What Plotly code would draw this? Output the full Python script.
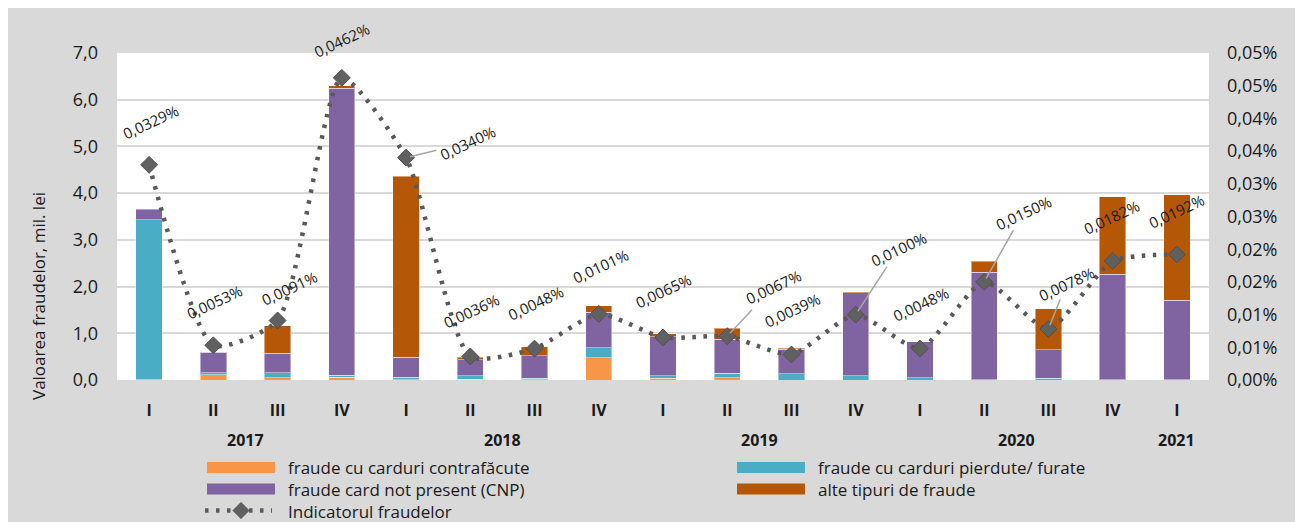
import plotly.graph_objects as go

# quarters / years
QUARTERS = ['I', 'II', 'III', 'IV', 'I', 'II', 'III', 'IV', 'I', 'II', 'III', 'IV',
            'I', 'II', 'III', 'IV', 'I']
YEARS = ['2017', '2018', '2019', '2020', '2021']
YEAR_CENTERS = [1.5, 5.5, 9.5, 13.5, 16]

# values in mil. lei (stacked, bottom to top)
contrafacute = [0.01, 0.11, 0.05, 0.06, 0.01, 0.02, 0.01, 0.48, 0.04, 0.05, 0.00, 0.00,
                0.00, 0.00, 0.00, 0.00, 0.00]
pierdute = [3.42, 0.04, 0.11, 0.04, 0.05, 0.07, 0.03, 0.21, 0.05, 0.09, 0.13, 0.09,
            0.05, 0.01, 0.04, 0.01, 0.01]
cnp = [0.21, 0.44, 0.41, 6.15, 0.43, 0.34, 0.48, 0.76, 0.84, 0.73, 0.53, 1.78,
       0.77, 2.30, 0.61, 2.25, 1.70]
alte = [0.01, 0.02, 0.59, 0.05, 3.87, 0.06, 0.19, 0.14, 0.06, 0.24, 0.02, 0.01,
        0.00, 0.23, 0.88, 1.66, 2.26]

# fraud indicator, in %
indicator = [0.0329, 0.0053, 0.0091, 0.0462, 0.0340, 0.0036, 0.0048, 0.0101, 0.0065,
             0.0067, 0.0039, 0.0100, 0.0048, 0.0150, 0.0078, 0.0182, 0.0192]

Y2_TICKVALS = [0, 0.005, 0.01, 0.015, 0.02, 0.025, 0.03, 0.035, 0.04, 0.045, 0.05]
Y2_TICKTEXT = ['0,00%', '0,01%', '0,01%', '0,02%', '0,02%', '0,03%', '0,03%',
               '0,04%', '0,04%', '0,05%', '0,05%']

SERIES_NAMES = ['fraude cu carduri contrafăcute', 'fraude cu carduri pierdute/ furate',
                'fraude card not present (CNP)', 'alte tipuri de fraude',
                'Indicatorul fraudelor']
COLORS = ['#F79646', '#4BACC6', '#8064A2', '#B65708']
LINE_COLOR = '#595959'
FONT = 'Open Sans'
TXT = '#1a1a1a'

# label offsets in px (dx, dy up) from the marker, and which ones get a leader line
LABEL_OFFSETS = [(1, 43), (1, 43), (12, 32), (0, 38), (61, 15), (1, 45), (1, 46), (2, 48),
                 (0, 46), (46, 49), (1, 44), (43, 66), (1, 45), (39, 69), (18, 45),
                 (-1, 44), (0, 43)]
LEADERS = [4, 9, 11, 13, 14]

# figure geometry
W, H = 1295, 514
ML, MR, MT, MB = 109, 94, 45, 142
PW, PH = W - ML - MR, H - MT - MB


def px(x):
    # page x (reference pixels) -> paper
    return (x - 8 - ML) / PW


def py(y):
    # page y (reference pixels) -> paper
    return 1 - (y - 8 - MT) / PH


xs = list(range(len(QUARTERS)))

fig = go.Figure()
for vals, name, col in zip([contrafacute, pierdute, cnp, alte], SERIES_NAMES, COLORS):
    fig.add_trace(go.Bar(x=xs, y=vals, name=name, marker_color=col,
                         marker_line=dict(color='rgba(255,255,255,0.45)', width=1),
                         showlegend=False))

fig.add_trace(go.Scatter(x=xs, y=indicator, name=SERIES_NAMES[4], yaxis='y2',
                         mode='lines+markers', showlegend=False,
                         line=dict(color=LINE_COLOR, width=4.5, dash='3.5px,7.5px',
                                   shape='spline', smoothing=0.6),
                         marker=dict(symbol='diamond', size=13, color='#606060',
                                     line=dict(color='#505050', width=1))))

annotations = []
# data labels
for i, v in enumerate(indicator):
    dx, dy = LABEL_OFFSETS[i]
    txt = f'{v:.4f}'.replace('.', ',') + '%'
    if i in LEADERS:
        annotations.append(dict(x=i, y=v, xref='x', yref='y2', text=txt, textangle=-25,
                                showarrow=True, arrowhead=0, arrowwidth=1.5,
                                arrowcolor='#A6A6A6', ax=dx, ay=-dy, standoff=4,
                                font=dict(family=FONT, size=15, color=TXT)))
    else:
        annotations.append(dict(x=i, y=v, xref='x', yref='y2', text=txt, textangle=-25,
                                showarrow=False, xshift=dx, yshift=dy,
                                font=dict(family=FONT, size=15, color=TXT)))

# year labels
for yr, c in zip(YEARS, YEAR_CENTERS):
    annotations.append(dict(x=c, y=py(440), xref='x', yref='paper', text=yr,
                            showarrow=False, yanchor='middle', xanchor='center',
                            font=dict(family=FONT, size=16, color=TXT, weight='bold')))

# y axis title
annotations.append(dict(x=px(38), y=py(296), xref='paper', yref='paper',
                        text='Valoarea fraudelor, mil. lei', textangle=-90,
                        xanchor='center', yanchor='middle',
                        showarrow=False, font=dict(family=FONT, size=17, color=TXT)))

# manual legend: swatches as shapes, one text block per column
shapes = []
rows = [467.5, 489, 510.5]
legend_items = [(0, 0, 0), (1, 1, 0), (2, 0, 1), (3, 1, 1)]
col_x = [(207, 275, 286), (737, 805, 816)]
for k, c, r in legend_items:
    x0, x1 = col_x[c][:2]
    yc = rows[r]
    shapes.append(dict(type='rect', xref='paper', yref='paper', x0=px(x0), x1=px(x1),
                       y0=py(yc + 5.5), y1=py(yc - 5.5), fillcolor=COLORS[k],
                       line=dict(width=0)))
yc = rows[2]
shapes.append(dict(type='line', xref='paper', yref='paper', x0=px(205), x1=px(272),
                   y0=py(yc), y1=py(yc), line=dict(color=LINE_COLOR, width=4.5,
                                                   dash='3.5px,7.5px')))
shapes.append(dict(type='path', xref='paper', yref='paper', xsizemode='pixel',
                   ysizemode='pixel', xanchor=px(241), yanchor=py(yc),
                   path='M -8 0 L 0 8 L 8 0 L 0 -8 Z', fillcolor='#606060',
                   line=dict(color='#505050', width=1)))

col1 = '<br>'.join([SERIES_NAMES[0], SERIES_NAMES[2], SERIES_NAMES[4]])
col2 = '<br>'.join([SERIES_NAMES[1], SERIES_NAMES[3]])
annotations.append(dict(x=px(col_x[0][2]), y=py(rows[1]), xref='paper', yref='paper',
                        text=col1, showarrow=False, xanchor='left', yanchor='middle',
                        align='left', font=dict(family=FONT, size=17, color=TXT)))
annotations.append(dict(x=px(col_x[1][2]), y=py((rows[0] + rows[1]) / 2), xref='paper',
                        yref='paper', text=col2, showarrow=False, xanchor='left',
                        yanchor='middle', align='left',
                        font=dict(family=FONT, size=17, color=TXT)))

fig.update_layout(
    width=W, height=H,
    margin=dict(l=ML, r=MR, t=MT, b=MB, pad=0),
    paper_bgcolor='#D9D9D9', plot_bgcolor='white',
    barmode='stack', bargap=0.59,
    separators=', ',
    font=dict(family=FONT, size=17, color=TXT),
    showlegend=False,
    xaxis=dict(range=[-0.5, len(QUARTERS) - 0.5], tickvals=xs, ticktext=QUARTERS,
               showgrid=False, zeroline=False, showline=False,
               tickfont=dict(family=FONT, size=16, color=TXT, weight='bold'),
               ticklabelstandoff=19),
    yaxis=dict(range=[0, 7], dtick=1, tickformat='.1f', showgrid=True,
               gridcolor='#D9D9D9', gridwidth=2, zeroline=False, showline=False,
               tickfont=dict(family=FONT, size=18, color=TXT), ticklabelstandoff=18),
    yaxis2=dict(range=[0, 0.05], overlaying='y', side='right', tickvals=Y2_TICKVALS,
                ticktext=Y2_TICKTEXT, showgrid=False, zeroline=False, showline=False,
                tickfont=dict(family=FONT, size=18, color=TXT), ticklabelstandoff=17),
    annotations=annotations,
    shapes=shapes,
)

fig.write_html('out.html')
